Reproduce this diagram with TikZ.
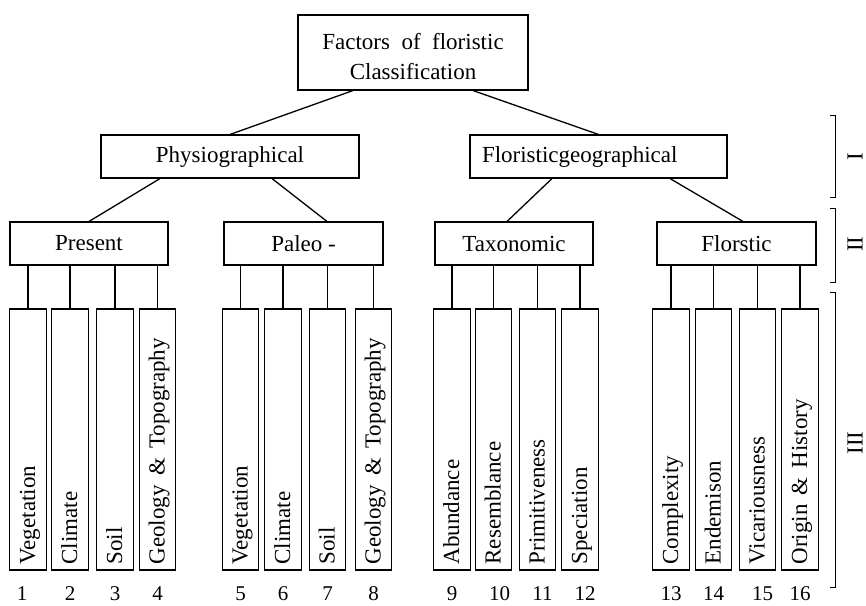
\documentclass[tikz,border=0pt]{standalone}
\usepackage{fontspec}
\setmainfont{Liberation Serif}
\begin{document}
\begin{tikzpicture}[x=1pt,y=-1pt,
  box/.style={draw,line width=1.1pt,inner sep=0pt,font=\fontsize{23}{30}\selectfont},
  leaf/.style={draw,line width=1.1pt,inner sep=0pt,minimum width=36.5pt,minimum height=261pt},
  leaftext/.style={rotate=90,anchor=base west,inner sep=0pt,font=\fontsize{23}{28}\selectfont},
  num/.style={inner sep=0pt,font=\fontsize{21}{24}\selectfont},
  conn/.style={line width=1.3pt},
  brack/.style={line width=1pt},
  roman/.style={rotate=90,inner sep=0pt,font=\fontsize{23}{28}\selectfont}]
\useasboundingbox (0,0) rectangle (866,605);
% top
\node[box,minimum width=230pt,minimum height=75pt,align=center] (top) at (413,52.5)
  {\rule{0pt}{24pt}Factors\hspace{0.5em}of\hspace{0.5em}floristic\\Classification};
% level I
\node[box,minimum width=258pt,minimum height=43pt] (phys) at (230,156.5) {Physiographical};
\node[box,minimum height=43pt,inner xsep=12pt,text width=233pt,align=left] (flor) at (598.5,156.5) {Floristicgeographical};
% level II
\node[box,minimum width=158pt,minimum height=43pt] (present) at (89,243.5) {Present};
\node[box,minimum width=159pt,minimum height=43pt] (paleo) at (303.5,243.5) {Paleo -};
\node[box,minimum width=158pt,minimum height=43pt] (taxo) at (514,243.5) {Taxonomic};
\node[box,minimum width=159pt,minimum height=43pt] (florst) at (736.5,243.5) {Florstic};
% connectors
\draw[conn] ([xshift=-60pt]top.south) -- (phys.north);
\draw[conn] ([xshift=60pt]top.south) -- (flor.north);
\draw[conn] ([xshift=-70pt]phys.south) -- (present.north);
\draw[conn] ([xshift=42pt]phys.south) -- ([xshift=23.5pt]paleo.north);
\draw[conn] ([xshift=-46.5pt]flor.south) -- ([xshift=-7pt]taxo.north);
\draw[conn] ([xshift=71.5pt]flor.south) -- ([xshift=6.5pt]florst.north);
% leaves
\foreach \i/\x/\t/\dx in {1/28/Vegetation/-6, 2/70/Climate/0, 3/115/Soil/0, 4/157.5/{Geology\hspace{0.4em}\&\hspace{0.4em}Topography}/0,
  5/240.5/Vegetation/0, 6/283/Climate/0, 7/327.5/Soil/0, 8/373.5/{Geology\hspace{0.4em}\&\hspace{0.4em}Topography}/0,
  9/452/Abundance/0, 10/493.5/Resemblance/6, 11/537.5/Primitiveness/5, 12/580/Speciation/5,
  13/671/Complexity/0, 14/713.5/Endemison/0, 15/757.5/Vicariousness/5, 16/800/{Origin\hspace{0.4em}\&\hspace{0.4em}History}/0}{
  \node[leaf] (l\i) at (\x,439.5) {};
  \node[leaftext] (t\i) at ([xshift=7pt,yshift=6pt]l\i.south) {\t};
  \node[num] (n\i) at ([xshift=\dx pt,yshift=-23pt]l\i.south) {\i};
}
\foreach \i in {1,2,3,4}{\draw[conn] (l\i.north) -- (l\i.north |- present.south);}
\foreach \i in {5,6,7,8}{\draw[conn] (l\i.north) -- (l\i.north |- paleo.south);}
\foreach \i in {9,10,11,12}{\draw[conn] (l\i.north) -- (l\i.north |- taxo.south);}
\foreach \i in {13,14,15,16}{\draw[conn] (l\i.north) -- (l\i.north |- florst.south);}
% brackets
\draw[brack] (830,115) -- (835,115) -- (835,197) -- (830,197);
\draw[brack] (830,208) -- (835,208) -- (835,282) -- (830,282);
\draw[brack] (830,292) -- (835,292) -- (835,587) -- (830,587);
\node[roman] (r1) at (855,157) {I};
\node[roman] (r2) at (855,244) {II};
\node[roman] (r3) at (855,443) {III};
\end{tikzpicture}
\end{document}
